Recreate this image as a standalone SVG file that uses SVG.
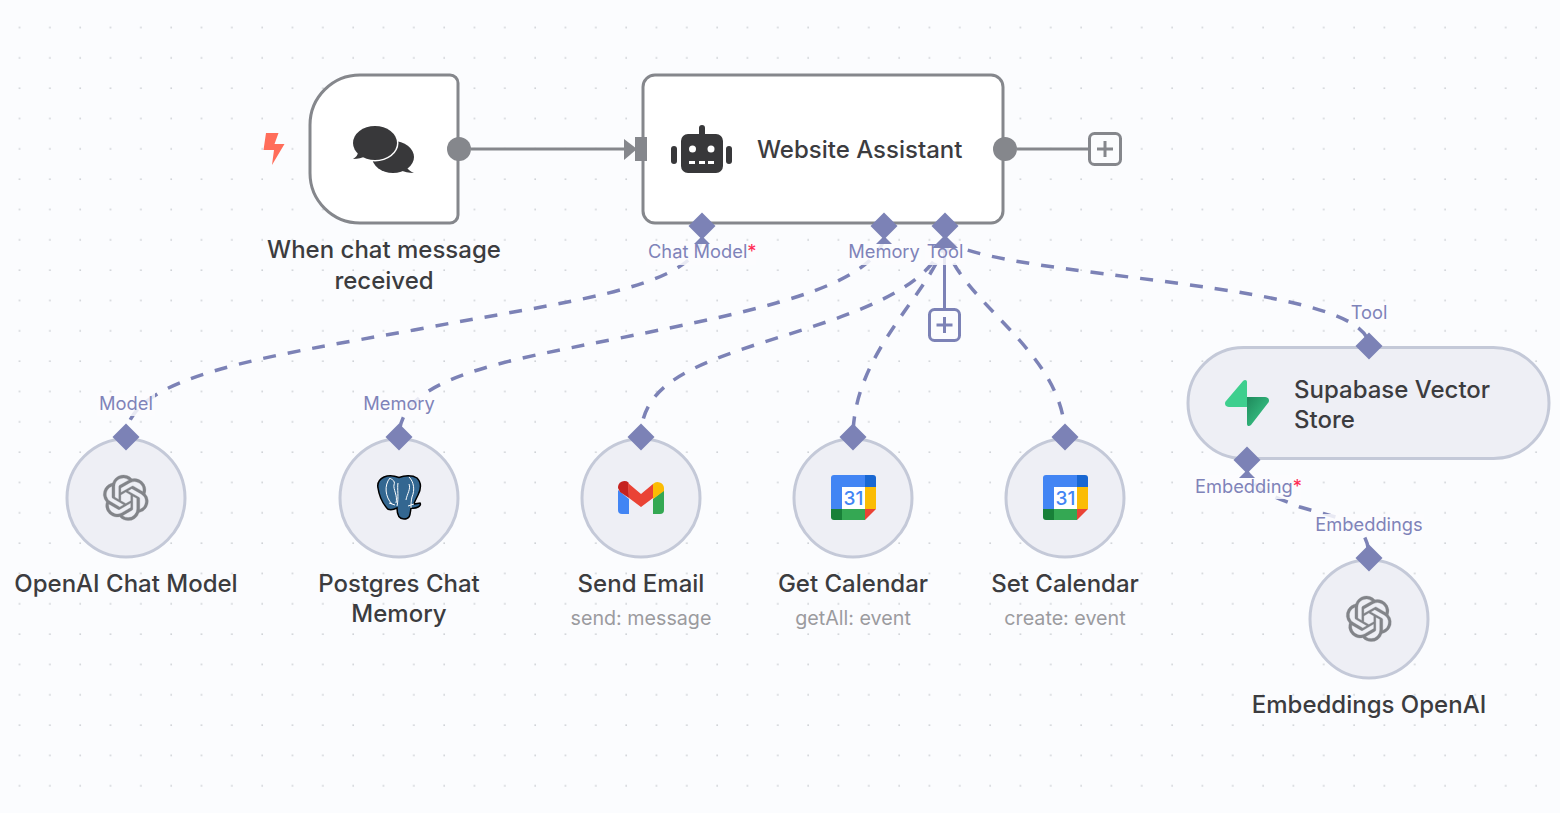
<svg xmlns="http://www.w3.org/2000/svg" width="1560" height="813" viewBox="0 0 1560 813">
<style>
text{font-family:Inter,"Liberation Sans",sans-serif}
.t{font-size:24px;font-weight:500;fill:#3c3c3f;text-anchor:middle}
.ts{font-size:24px;font-weight:500;fill:#3c3c3f}
.s{font-size:19.700px;fill:#9b9b9f;text-anchor:middle}
.l{font-size:18.300px;fill:#7f83b9;text-anchor:middle}
.r{fill:#ff2d55}
.card{fill:#fff;stroke:#85878c;stroke-width:3}
.sub{fill:#eeeff5;stroke:#c4c9d8;stroke-width:3}
.d{fill:#7c82b6}
.dash{fill:none;stroke:#7c82b6;stroke-width:3.500;stroke-dasharray:13 12}
.stub{fill:none;stroke:#7c82b6;stroke-width:3}
.halo{fill:#fbfcfe;fill-opacity:.85}
.plus{fill:#fbfcfe;stroke-width:3}
</style>
<defs>
<linearGradient id="sb" x1="0" y1="0" x2="1" y2="1"><stop offset="0" stop-color="#1f8a5c"/><stop offset="1" stop-color="#3ecf8e"/></linearGradient>
<pattern id="grid" x="19.4" y="27.4" width="30.33" height="30.33" patternUnits="userSpaceOnUse">
<rect x="-.6" y="-.6" width="1.6" height="1.6" fill="#cfd2d6"/><rect x="29.7" y="-.6" width="1.6" height="1.6" fill="#cfd2d6"/>
<rect x="-.6" y="29.7" width="1.6" height="1.6" fill="#cfd2d6"/><rect x="29.7" y="29.7" width="1.6" height="1.6" fill="#cfd2d6"/>
</pattern>
<path id="dm" d="M0-13.5 13.5 0 0 13.5-13.5 0Z"/>
<path id="oai" fill="#828489" stroke="#828489" stroke-width=".15" transform="scale(1.9)" d="M22.2819 9.8211a5.9847 5.9847 0 0 0-.5157-4.9108 6.0462 6.0462 0 0 0-6.5098-2.9A6.0651 6.0651 0 0 0 4.9807 4.1818a5.9847 5.9847 0 0 0-3.9977 2.9 6.0462 6.0462 0 0 0 .7427 7.0966 5.98 5.98 0 0 0 .511 4.9107 6.051 6.051 0 0 0 6.5146 2.9001A5.9847 5.9847 0 0 0 13.2599 24a6.0557 6.0557 0 0 0 5.7718-4.2058 5.9894 5.9894 0 0 0 3.9977-2.9001 6.0557 6.0557 0 0 0-.7475-7.0729zm-9.022 12.6081a4.4755 4.4755 0 0 1-2.8764-1.0408l.1419-.0804 4.7783-2.7582a.7948.7948 0 0 0 .3927-.6813v-6.7369l2.02 1.1686a.071.071 0 0 1 .038.052v5.5826a4.504 4.504 0 0 1-4.4945 4.4944zm-9.6607-4.1254a4.4708 4.4708 0 0 1-.5346-3.0137l.142.0852 4.783 2.7582a.7712.7712 0 0 0 .7806 0l5.8428-3.3685v2.3324a.0804.0804 0 0 1-.0332.0615L9.74 19.9502a4.4992 4.4992 0 0 1-6.1408-1.6464zM2.3408 7.8956a4.485 4.485 0 0 1 2.3655-1.9728V11.6a.7664.7664 0 0 0 .3879.6765l5.8144 3.3543-2.0201 1.1685a.0757.0757 0 0 1-.071 0l-4.8303-2.7865A4.504 4.504 0 0 1 2.3408 7.872zm16.5963 3.8558L13.1038 8.364 15.1192 7.2a.0757.0757 0 0 1 .071 0l4.8303 2.7913a4.4944 4.4944 0 0 1-.6765 8.1042v-5.6772a.79.79 0 0 0-.407-.667zm2.0107-3.0231l-.142-.0852-4.7735-2.7818a.7759.7759 0 0 0-.7854 0L9.409 9.2297V6.8974a.0662.0662 0 0 1 .0284-.0615l4.8303-2.7866a4.4992 4.4992 0 0 1 6.6802 4.66zM8.3065 12.863l-2.02-1.1638a.0804.0804 0 0 1-.038-.0567V6.0742a4.4992 4.4992 0 0 1 7.3757-3.4537l-.142.0805L8.704 5.459a.7948.7948 0 0 0-.3927.6813zm1.0976-2.3654l2.602-1.4998 2.6069 1.4998v2.9994l-2.5974 1.4997-2.6067-1.4997Z"/>
<g id="cal">
<path fill="#4285f4" d="M3 0H34V12H11V34H0V3A3 3 0 0 1 3 0Z"/>
<path fill="#1967d2" d="M34 0H42A3 3 0 0 1 45 3V12H34Z"/>
<rect x="11" y="12" width="23" height="22" fill="#fff"/>
<rect x="34" y="12" width="11" height="22" fill="#fbbc04"/>
<path fill="#188038" d="M0 34H11V45H3A3 3 0 0 1 0 42Z"/>
<rect x="11" y="34" width="23" height="11" fill="#34a853"/>
<path fill="#ea4335" d="M34 34H45L34 45Z"/>
<text x="22.5" y="29.500" font-size="19" font-weight="500" text-anchor="middle" fill="#4285f4">31</text>
</g>
</defs>
<rect width="1560" height="813" fill="#fbfcfe"/>
<rect width="1560" height="813" fill="url(#grid)"/>

<g id="connectors">
<path class="stub" style="stroke:#85878c" d="M471 149H626"/>
<path fill="#85878c" d="M624 139 637 149 624 160Z"/>
<path class="stub" style="stroke:#85878c" d="M1017 149H1089"/>
<path class="dash" d="M702 240C688 290 560 302 414 330C270 356 126 376 126 437"/>
<path class="dash" d="M884 240C866 288 760 310 620 338C500 362 399 378 399 437"/>
<path class="dash" d="M945 240C930 290 850 315 780 337C690 365 641 385 641 437"/>
<path class="dash" d="M945 240C935 290 853 350 853 437"/>
<path class="dash" d="M945 240C955 300 1065 350 1065 437"/>
<path class="dash" d="M945 240C1000 280 1369 280 1369 346"/>
<path class="dash" style="stroke-dashoffset:-16" d="M1247 470C1250 490 1280 499 1300 507C1340 519 1369 520 1369 558"/>
<path class="stub" d="M944.500 240V309"/>
</g>

<g id="edge-labels">
<rect class="halo" x="646" y="241" width="110" height="24"/>
<rect class="halo" x="847" y="241" width="74" height="24"/>
<rect class="halo" x="925" y="241" width="40" height="24"/>
<rect class="halo" x="97" y="393" width="58" height="23"/>
<rect class="halo" x="361" y="393" width="76" height="23"/>
<rect class="halo" x="1350" y="302" width="39" height="21"/>
<rect class="halo" x="1193" y="475" width="108" height="24"/>
<rect class="halo" x="1314" y="514" width="110" height="21"/>
<path class="d" d="M702 236 710 244H694Z"/>
<path class="d" d="M884 236 892 244H876Z"/>
<path class="d" d="M945 235 958 248H932Z"/>
<path class="d" d="M1247 470 1255 478H1239Z"/>
<text class="l" x="648" y="258" style="text-anchor:start">Chat Model<tspan class="r">*</tspan></text>
<text class="l" x="884" y="258">Memory</text>
<text class="l" x="945" y="258">Tool</text>
<text class="l" x="126" y="410">Model</text>
<text class="l" x="399" y="410">Memory</text>
<text class="l" x="1369" y="319">Tool</text>
<text class="l" x="1195" y="493" style="text-anchor:start">Embedding<tspan class="r">*</tspan></text>
<text class="l" x="1369" y="531">Embeddings</text>
</g>

<g id="node-trigger">
<path class="card" d="M360 75H450A8 8 0 0 1 458 83V215A8 8 0 0 1 450 223H360A50 50 0 0 1 310 173V125A50 50 0 0 1 360 75Z"/>
<path fill="#ff6d5a" d="M266 133H278.500L274.500 144H284.500L272 165 274 150H263.500Z"/>
<ellipse cx="393" cy="157" rx="21" ry="16" fill="#38383a"/>
<path fill="#38383a" d="M406 167C408 169 411 172 414 173C409 173 404 172 400 170Z"/>
<ellipse cx="375" cy="143" rx="23.500" ry="18.500" fill="#fff"/>
<ellipse cx="375" cy="143" rx="22" ry="17" fill="#38383a"/>
<path fill="#38383a" d="M358 152C358 155 356 157 353 159C358 159 362 158 366 156Z"/>
<circle cx="459" cy="149" r="12" fill="#85878c"/>
<text class="t" x="384" y="258">When chat message</text>
<text class="t" x="384" y="289">received</text>
</g>

<g id="node-agent">
<rect class="card" x="643" y="75" width="360" height="148" rx="12"/>
<rect x="635" y="137" width="12" height="24" fill="#85878c"/>
<path fill="#38383a" d="M699 134V128A3 3 0 0 1 705 128V134H716A7 7 0 0 1 723 141V166A7 7 0 0 1 716 173H688A7 7 0 0 1 681 166V141A7 7 0 0 1 688 134Z"/>
<rect x="671" y="146" width="6" height="18" rx="3" fill="#38383a"/>
<rect x="726" y="146" width="6" height="18" rx="3" fill="#38383a"/>
<circle cx="692.500" cy="149" r="3.500" fill="#fff"/><circle cx="711" cy="149" r="3.500" fill="#fff"/>
<path fill="#fff" d="M689 161h6v3h-6zM699 161h6v3h-6zM708 161h6v3h-6z"/>
<text class="ts" x="757" y="158">Website Assistant</text>
<circle cx="1005" cy="149" r="12" fill="#85878c"/>
<use href="#dm" x="702" y="226" class="d"/>
<use href="#dm" x="884" y="226" class="d"/>
<use href="#dm" x="945" y="226" class="d"/>
</g>

<g id="add-main">
<rect class="plus" x="1089.500" y="133.500" width="31" height="31" rx="5" stroke="#85878c"/>
<path d="M1097 149H1113M1105 141V157" stroke="#85878c" stroke-width="3" fill="none"/>
</g>
<g id="add-tool">
<rect class="plus" x="929.500" y="309.500" width="30" height="31" rx="5" stroke="#7c82b6"/>
<path d="M936.500 325H952.500M944.500 317V333" stroke="#7c82b6" stroke-width="3" fill="none"/>
</g>

<g id="node-openai-model">
<circle class="sub" cx="126" cy="498" r="59"/>
<use href="#oai" x="103" y="475"/>
<use href="#dm" x="126" y="437" class="d"/>
<text class="t" x="126" y="592">OpenAI Chat Model</text>
</g>

<g id="node-postgres">
<circle class="sub" cx="399" cy="498" r="59"/>
<path fill="#336791" stroke="#000" stroke-width="1.500" d="M384 477C389 475 395 476 399 477.500C404 475.500 412 474.500 417 478C422 483 421 489 418 495C416 499 414 503 414 504L420 503C422 506 416 509 411 508C410 513 411 519 404 519C398 519 397 514 397 508C393 510 388 511 386 507C382 502 379 495 378 488C377 483 380 479 384 477Z"/>
<path fill="none" stroke="#fff" stroke-width="1" d="M390 478C384 485 385 497 392 504M396 503C398 496 393 489 394 485C396 480 390 479 390 478M409 477C414 482 415 490 412 497C411 501 411 504 411 508M397 506C399 498 397 488 398 483M406 500C407 494 411 489 409 484M389 503 395 505M414 504 408 506"/>
<use href="#dm" x="399" y="437" class="d"/>
<text class="t" x="399" y="592">Postgres Chat</text>
<text class="t" x="399" y="622">Memory</text>
</g>

<g id="node-gmail">
<circle class="sub" cx="641" cy="498" r="59"/>
<path fill="#4285f4" d="M618 490 629 499V514H622A4 4 0 0 1 618 510Z"/>
<path fill="#34a853" d="M664 490 653 499V514H660A4 4 0 0 0 664 510Z"/>
<path fill="#c5221f" d="M618 488A6.500 6.500 0 0 1 628.500 482.500L629 498 620 492Z"/>
<path fill="#ea4335" d="M628 483 641 494 653 484V498L641 507 629 498Z"/>
<path fill="#fbbc04" d="M653 484A6.500 6.500 0 0 1 664 488V491L653 499Z"/>
<use href="#dm" x="641" y="437" class="d"/>
<text class="t" x="641" y="592">Send Email</text>
<text class="s" x="641" y="624.500">send: message</text>
</g>

<g id="node-get-calendar">
<circle class="sub" cx="853" cy="498" r="59"/>
<use href="#cal" x="831" y="475"/>
<use href="#dm" x="853" y="437" class="d"/>
<text class="t" x="853" y="592">Get Calendar</text>
<text class="s" x="853" y="624.500">getAll: event</text>
</g>

<g id="node-set-calendar">
<circle class="sub" cx="1065" cy="498" r="59"/>
<use href="#cal" x="1043" y="475"/>
<use href="#dm" x="1065" y="437" class="d"/>
<text class="t" x="1065" y="592">Set Calendar</text>
<text class="s" x="1065" y="624.500">create: event</text>
</g>

<g id="node-supabase">
<rect class="sub" x="1188" y="347.500" width="361" height="111" rx="55.500"/>
<path fill="#3ecf8e" d="M1247 382V407H1229C1225 407 1224 403 1226 401L1243 381C1245 379 1247 380 1247 382Z"/>
<path fill="url(#sb)" d="M1247 424V397H1265C1269 397 1270 401 1268 403L1251 425C1249 427 1247 426 1247 424Z"/>
<use href="#dm" x="1369" y="346" class="d"/>
<use href="#dm" x="1247" y="460" class="d"/>
<text class="ts" x="1294" y="398">Supabase Vector</text>
<text class="ts" x="1294" y="428">Store</text>
</g>

<g id="node-openai-embeddings">
<circle class="sub" cx="1369" cy="619" r="59"/>
<use href="#oai" x="1346" y="596"/>
<use href="#dm" x="1369" y="558" class="d"/>
<text class="t" x="1369" y="713">Embeddings OpenAI</text>
</g>
</svg>
